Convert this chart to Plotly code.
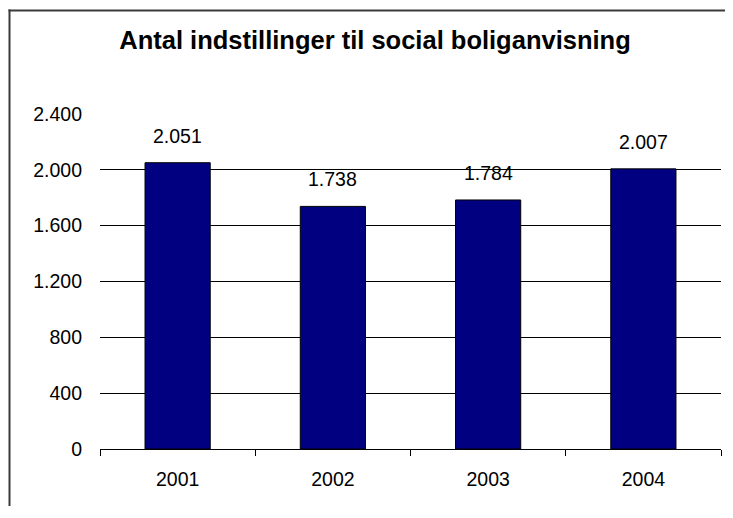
import plotly.graph_objects as go

years = ["2001", "2002", "2003", "2004"]
values = [2051, 1738, 1784, 2007]
y_ticks = [0, 400, 800, 1200, 1600, 2000, 2400]
title_text = "Antal indstillinger til social boliganvisning"

OFF = 8  # default page body margin
W, H = 733 - 2 * OFF, 518 - 2 * OFF - 4
# plot area in page pixels: x 100..721, y 114..449
L = 100 - OFF
R = W - (721 - OFF)
T = 114 - OFF
B = H - (449 - OFF)

fig = go.Figure()
fig.add_trace(go.Bar(
    x=years, y=values,
    marker=dict(color="#000080", line=dict(color="#000000", width=1)),
    width=0.42,
    hoverinfo="skip",
))

fmt = lambda v: f"{v:,}".replace(",", ".")
for i, v in enumerate(values):
    fig.add_annotation(x=i, y=v, xref="x", yref="y", text=fmt(v),
                       showarrow=False, yanchor="bottom", yshift=14,
                       font=dict(family="Liberation Sans, Arial", size=19.5, color="#000"))

pw = W - L - R
ph = H - T - B
def px_to_paper_x(px):
    return (px - OFF - L) / pw
def px_to_paper_y(py):
    return (H - B - (py - OFF)) / ph

border = dict(color="#3a3a3a", width=2)
# top border line
fig.add_shape(type="line", xref="paper", yref="paper",
              x0=px_to_paper_x(8.5), x1=px_to_paper_x(733),
              y0=px_to_paper_y(10.5), y1=px_to_paper_y(10.5),
              line=border, layer="above")
# left border line
fig.add_shape(type="line", xref="paper", yref="paper",
              x0=px_to_paper_x(9.5), x1=px_to_paper_x(9.5),
              y0=px_to_paper_y(9.5), y1=px_to_paper_y(520),
              line=border, layer="above")

fig.update_layout(
    width=W, height=H,
    margin=dict(l=L, r=R, t=T, b=B, pad=0, autoexpand=False),
    paper_bgcolor="white", plot_bgcolor="white",
    separators=",.",
    showlegend=False,
    font=dict(family="Liberation Sans, Arial", size=19.5, color="#000"),
    title=dict(text="<b>" + title_text + "</b>", x=(375 - OFF) / W, xanchor="center",
               y=1 - (40 - OFF) / H, yanchor="middle", yref="container",
               font=dict(family="Liberation Sans, Arial", size=25.5, color="#000")),
    bargap=0.58,
)
fig.update_yaxes(range=[0, 2400], tickvals=y_ticks, tickformat=",d",
                 showgrid=True, gridcolor="#000000", gridwidth=1,
                 showline=False, zeroline=False, ticks="", automargin=False,
                 ticklabelstandoff=17)
fig.update_xaxes(type="category", range=[-0.5, 3.5], showgrid=False, showline=True,
                 linecolor="#000000", linewidth=1, automargin=False,
                 ticks="outside", tickson="boundaries", ticklen=6,
                 tickcolor="#000000", tickangle=0, ticklabelstandoff=13)

fig.write_html("out.html")
